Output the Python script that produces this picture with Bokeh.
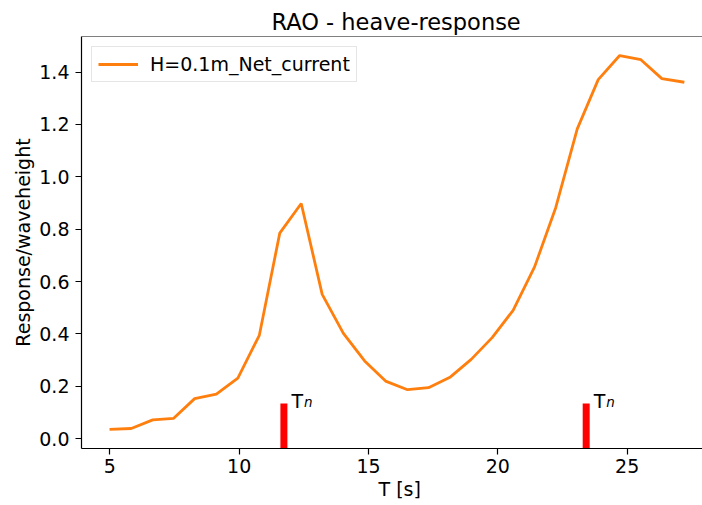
from bokeh.plotting import figure
from bokeh.models import Range1d, FixedTicker, Span, ColumnDataSource, Title
from bokeh.core.properties import value
from bokeh.embed import file_html
from bokeh.resources import INLINE

# ---- data ----
period = [4.99, 5.83, 6.66, 7.47, 8.28, 9.12, 9.95, 10.78, 11.57, 12.40,
          13.21, 14.03, 14.85, 15.66, 16.51, 17.32, 18.17, 18.97, 19.78, 20.59,
          21.42, 22.24, 23.07, 23.88, 24.71, 25.53, 26.34, 27.21]
response = [0.036, 0.039, 0.072, 0.078, 0.153, 0.170, 0.231, 0.395, 0.785, 0.898,
            0.551, 0.402, 0.297, 0.220, 0.187, 0.195, 0.236, 0.303, 0.386, 0.490,
            0.656, 0.883, 1.183, 1.371, 1.463, 1.447, 1.375, 1.361]
series_name = "H=0.1m_Net_current"

tn_period = [11.73, 23.415]
tn_marker_top = [0.134, 0.134]
tn_text_base = ["T", "T"]
tn_text_sub = ["n", "n"]
tn_label_level = [0.144, 0.144]

x_ticks = [5, 10, 15, 20, 25]
x_tick_labels = ["5", "10", "15", "20", "25"]
y_ticks = [0.0, 0.2, 0.4, 0.6, 0.8, 1.0, 1.2, 1.4]
y_tick_labels = ["0.0", "0.2", "0.4", "0.6", "0.8", "1.0", "1.2", "1.4"]

title_text = "RAO - heave-response"
x_label = "T [s]"
y_label = "Response/waveheight"

FONT = "DejaVu Sans"
X0, X1 = 3.906, 27.911
Y0, Y1 = -0.0374, 1.5357

p = figure(width=702, height=505, x_range=Range1d(X0, X1), y_range=Range1d(Y0, Y1),
           output_backend="svg", toolbar_location=None, title=None,
           min_border_left=81, min_border_right=0, min_border_top=36, min_border_bottom=57)
p.background_fill_color = "white"
p.border_fill_color = "white"
p.xgrid.visible = False
p.ygrid.visible = False
p.outline_line_color = None

# top spine (right spine is cropped off in the reference)
p.add_layout(Span(location=Y1, dimension="width", line_color="black", line_width=1.2))

# main curve
p.line(period, response, line_color="#ff7f0e", line_width=2.8, legend_label=series_name)

# natural period markers
tn_src = ColumnDataSource(dict(x=tn_period, top=tn_marker_top,
                               bottom=[Y0] * len(tn_period),
                               lvl=tn_label_level, base=tn_text_base, sub=tn_text_sub))
p.segment(x0="x", y0="bottom", x1="x", y1="top", source=tn_src,
          line_color="red", line_width=7)
p.text(x="x", y="lvl", text="base", source=tn_src, x_offset=7.5,
       text_font=value(FONT), text_font_size="19px", text_color="black",
       text_baseline="alphabetic", text_align="left")
p.text(x="x", y="lvl", text="sub", source=tn_src, x_offset=20, y_offset=1,
       text_font=value(FONT), text_font_size="13.5px", text_font_style="italic",
       text_color="black", text_baseline="alphabetic", text_align="left")

# axes
for ax in (p.xaxis, p.yaxis):
    ax.axis_line_color = "black"
    ax.axis_line_width = 1.2
    ax.major_tick_line_color = "black"
    ax.major_tick_line_width = 1.2
    ax.major_tick_out = 6
    ax.major_tick_in = 0
    ax.minor_tick_line_color = None
    ax.major_label_text_font = FONT
    ax.major_label_text_font_size = "19px"
    ax.major_label_text_color = "black"
    ax.axis_label_text_font = FONT
    ax.axis_label_text_font_size = "19px"
    ax.axis_label_text_font_style = "normal"
    ax.axis_label_text_color = "black"

p.xaxis.ticker = FixedTicker(ticks=x_ticks)
p.xaxis.major_label_overrides = {t: s for t, s in zip(x_ticks, x_tick_labels)}
p.xaxis.major_label_standoff = 4
p.yaxis.ticker = FixedTicker(ticks=y_ticks)
p.yaxis.major_label_overrides = {t: s for t, s in zip(y_ticks, y_tick_labels)}
p.yaxis.major_label_standoff = 6
p.yaxis.axis_label = y_label
p.yaxis.axis_label_standoff = 2

# title (left-aligned with an offset so it is centred like the original axes box)
p.add_layout(Title(text=title_text, align="left", offset=190, standoff=4,
                   text_font=FONT, text_font_size="22.5px",
                   text_font_style="normal", text_color="black"), "above")

# x-axis label placed as a bottom title, positioned like the original
p.add_layout(Title(text=x_label, align="left", offset=297, standoff=0,
                   text_font=FONT, text_font_size="19px",
                   text_font_style="normal", text_color="black"), "below")

# legend
lg = p.legend[0]
lg.location = "top_left"
lg.margin = 10
lg.padding = 6
lg.spacing = 0
lg.glyph_width = 40
lg.glyph_height = 22
lg.label_height = 22
lg.label_standoff = 12
lg.label_text_font = FONT
lg.label_text_font_size = "19px"
lg.label_text_color = "black"
lg.border_line_color = "#cccccc"
lg.border_line_width = 1
lg.background_fill_alpha = 0.8

open("out.html", "w").write(file_html(p, INLINE))
